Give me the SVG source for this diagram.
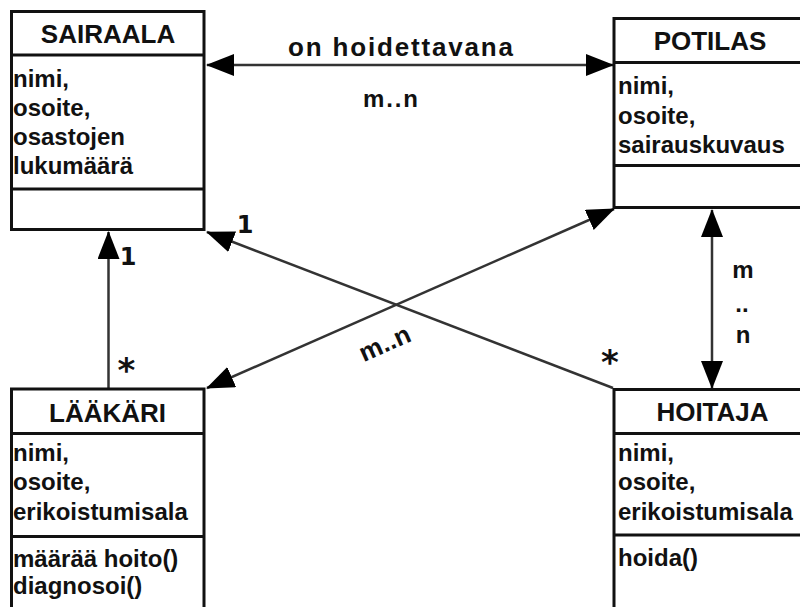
<svg xmlns="http://www.w3.org/2000/svg" width="800" height="607" viewBox="0 0 800 607">
  <style>
    .box{fill:#fff;stroke:#111;stroke-width:3}
    .sep{stroke:#111;stroke-width:3}
    .title{font-family:"Liberation Sans",Arial,sans-serif;font-weight:bold;font-size:26px;fill:#111;text-anchor:middle}
    .attr{font-family:"Liberation Sans",Arial,sans-serif;font-weight:bold;font-size:24px;fill:#111}
    .conn{stroke:#333;stroke-width:2.5;fill:none}
    .lbl{font-family:"Liberation Sans",Arial,sans-serif;font-weight:bold;font-size:24px;fill:#111}
    .big{font-size:26px}
    .mult{font-family:"DejaVu Sans",sans-serif;font-weight:bold;font-size:24px;fill:#111;text-anchor:middle}
    .star{font-family:"DejaVu Sans",sans-serif;font-weight:bold;font-size:34px;fill:#111;text-anchor:middle}
  </style>
  <defs>
    <marker id="arrow" markerUnits="userSpaceOnUse" viewBox="0 -11 28 22" markerWidth="28" markerHeight="22" refX="27" refY="0" orient="auto-start-reverse">
      <path d="M0,-11 L28,0 L0,11 Z" fill="#000"/>
    </marker>
  </defs>

  <rect width="800" height="607" fill="#fff"/>

  <!-- associations -->
  <g id="connectors">
    <line class="conn" x1="207" y1="65" x2="613" y2="65" marker-start="url(#arrow)" marker-end="url(#arrow)"/>
    <line class="conn" x1="108.5" y1="388" x2="108.5" y2="232" marker-end="url(#arrow)"/>
    <line class="conn" x1="712" y1="210" x2="712" y2="388" marker-start="url(#arrow)" marker-end="url(#arrow)"/>
    <line class="conn" x1="613" y1="388" x2="207" y2="232" marker-end="url(#arrow)"/>
    <line class="conn" x1="207" y1="388" x2="614" y2="209" marker-start="url(#arrow)" marker-end="url(#arrow)"/>

    <text class="lbl big" x="288" y="56" textLength="225" lengthAdjust="spacing">on hoidettavana</text>
    <text class="lbl" x="363" y="107" textLength="55" lengthAdjust="spacing">m..n</text>

    <text class="mult" x="128" y="265">1</text>
    <text class="star" x="126.5" y="382">*</text>

    <text class="mult" x="245" y="233">1</text>
    <text class="star" x="610" y="374">*</text>

    <text class="lbl" x="743" y="278" text-anchor="middle">m</text>
    <text class="lbl" x="742" y="312" text-anchor="middle">..</text>
    <text class="lbl" x="743" y="343" text-anchor="middle">n</text>

    <text class="lbl big" x="385" y="352" text-anchor="middle" transform="rotate(-24 385 344)">m..n</text>
  </g>

  <!-- classes -->
  <g id="sairaala">
    <rect class="box" x="11.5" y="11.5" width="192.5" height="218"/>
    <line class="sep" x1="11.5" y1="55" x2="204" y2="55"/>
    <line class="sep" x1="11.5" y1="189" x2="204" y2="189"/>
    <text class="title" x="108" y="43">SAIRAALA</text>
    <text class="attr" x="13" y="87">nimi,</text>
    <text class="attr" x="13" y="116">osoite,</text>
    <text class="attr" x="13" y="145">osastojen</text>
    <text class="attr" x="13" y="174">lukumäärä</text>
  </g>

  <g id="potilas">
    <rect class="box" x="614" y="18.5" width="200" height="189"/>
    <line class="sep" x1="614" y1="62.5" x2="814" y2="62.5"/>
    <line class="sep" x1="614" y1="165.5" x2="814" y2="165.5"/>
    <text class="title" x="710" y="50">POTILAS</text>
    <text class="attr" x="618" y="94">nimi,</text>
    <text class="attr" x="618" y="124">osoite,</text>
    <text class="attr" x="618" y="153">sairauskuvaus</text>
  </g>

  <g id="laakari">
    <rect class="box" x="11.5" y="389" width="192.5" height="240"/>
    <line class="sep" x1="11.5" y1="433.5" x2="204" y2="433.5"/>
    <line class="sep" x1="11.5" y1="536.5" x2="204" y2="536.5"/>
    <text class="title" x="107.5" y="422">LÄÄKÄRI</text>
    <text class="attr" x="13" y="461">nimi,</text>
    <text class="attr" x="13" y="490">osoite,</text>
    <text class="attr" x="13" y="520">erikoistumisala</text>
    <text class="attr" x="13" y="567">määrää hoito()</text>
    <text class="attr" x="13" y="594">diagnosoi()</text>
  </g>

  <g id="hoitaja">
    <rect class="box" x="614" y="389.5" width="200" height="240"/>
    <line class="sep" x1="614" y1="433.5" x2="814" y2="433.5"/>
    <line class="sep" x1="614" y1="535" x2="814" y2="535"/>
    <text class="title" x="712.5" y="421">HOITAJA</text>
    <text class="attr" x="618" y="461">nimi,</text>
    <text class="attr" x="618" y="490">osoite,</text>
    <text class="attr" x="618" y="520">erikoistumisala</text>
    <text class="attr" x="618" y="566">hoida()</text>
  </g>
</svg>
